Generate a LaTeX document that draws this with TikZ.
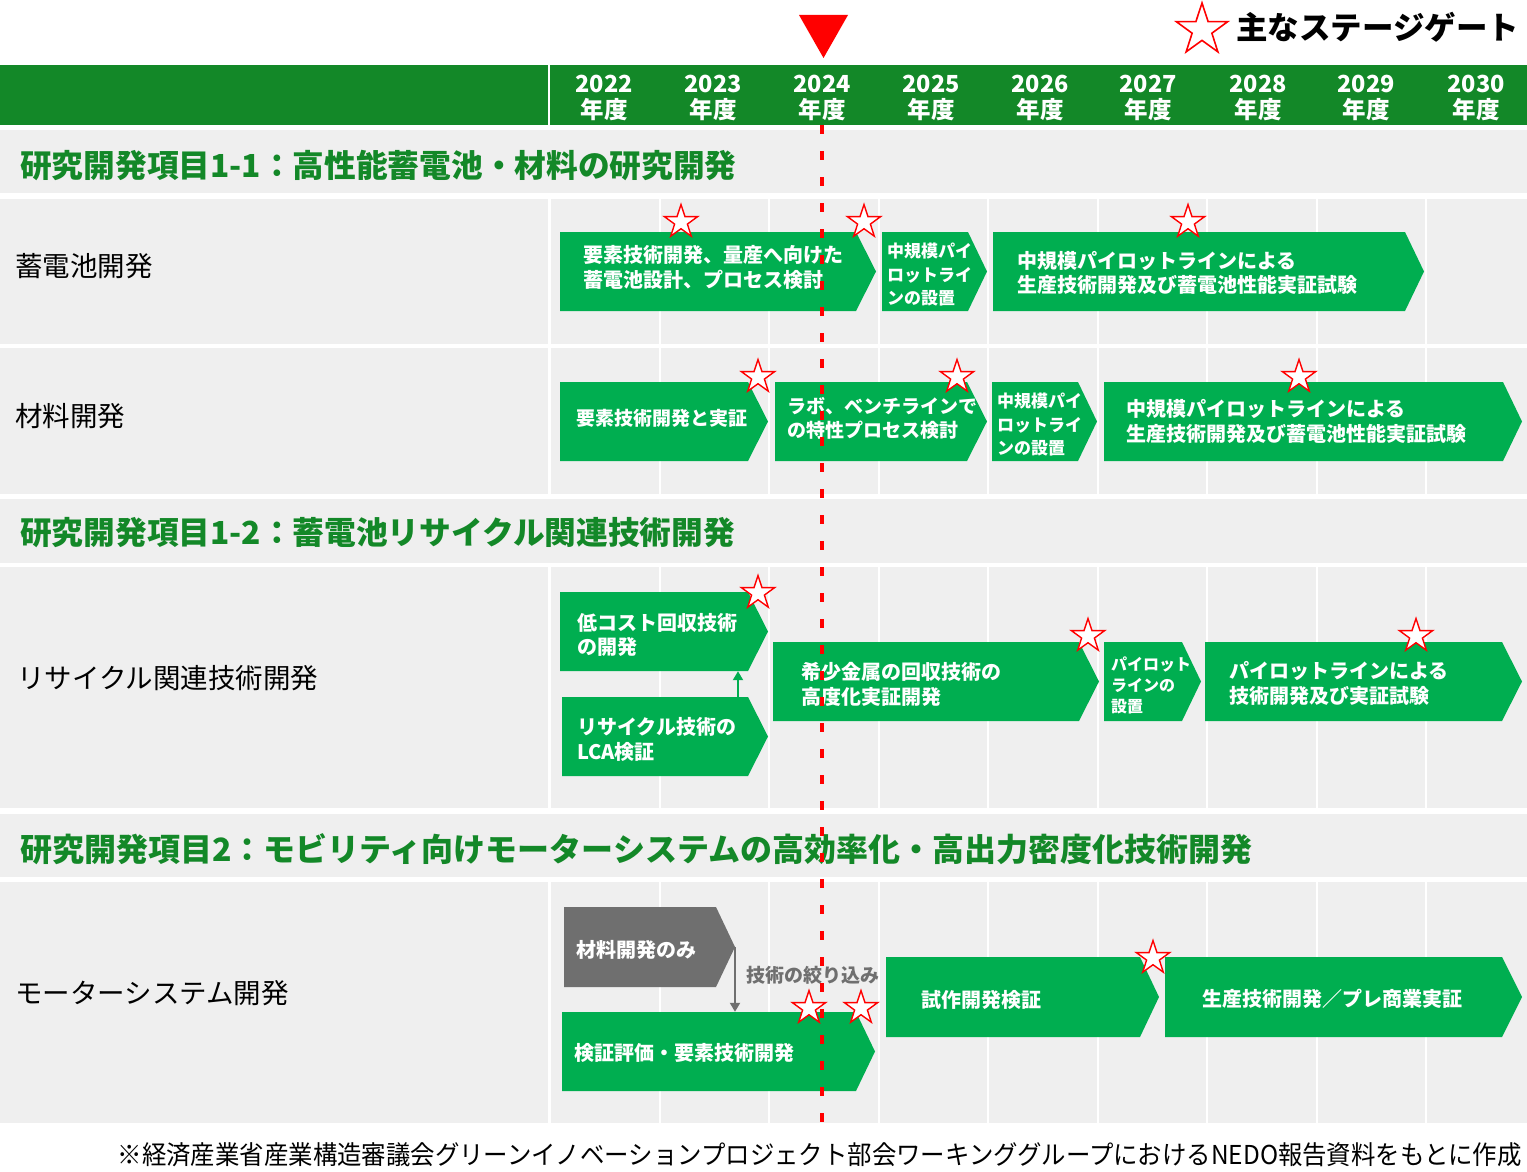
\documentclass[tikz,border=0pt]{standalone}
\usepackage{fontspec}
\setmainfont{Noto Sans CJK JP}
\usetikzlibrary{shapes.geometric,arrows.meta,fit}
\definecolor{hdrgreen}{RGB}{19,136,40}
\definecolor{cgreen}{RGB}{0,174,80}
\definecolor{bggray}{RGB}{239,239,239}
\definecolor{cgray}{RGB}{111,111,111}
% name, colour, x0, x-corner, x-tip, y0, y1
\newcommand\chev[7]{%
  \fill[#2] (#3,#6) -- (#4,#6) -- (#5,{(#6+#7)/2}) -- (#4,#7) -- (#3,#7) -- cycle;
  \node[fit={(#3,#6) (#4,#7)}, inner sep=0pt] (#1) {};
}
\tikzset{
  ct/.style={text=white, font=\bfseries\fontsize{20}{24.5}\selectfont, align=left, anchor=west, inner sep=0pt},
  ctm/.style={ct, font=\bfseries\fontsize{19}{24}\selectfont},
  cts/.style={ct, font=\bfseries\fontsize{17}{23.5}\selectfont},
  ctxs/.style={ct, font=\bfseries\fontsize{16}{21}\selectfont},
  rowlab/.style={anchor=west, inner sep=0pt, font=\fontsize{27.5}{27.5}\selectfont, text=black},
  sechead/.style={anchor=west, inner sep=0pt, font=\bfseries\fontsize{31.7}{32}\selectfont, text=hdrgreen},
  yr/.style={text=white, font=\bfseries\fontsize{23.5}{26}\selectfont, align=center, inner sep=0pt},
  stg/.style={star, star points=5, star point ratio=2.6, minimum size=35pt, inner sep=0pt, draw=red, fill=white, line width=1.4pt},
  gridline/.style={white, line width=2pt},
}
\begin{document}
\begin{tikzpicture}[x=1pt,y=-1pt]
\useasboundingbox (0,0) rectangle (1527,1172);
% header bar
\fill[hdrgreen] (0,65) rectangle (1527,125);
\draw[white, line width=2.5pt] (549,65) -- (549,125);
\foreach \x/\y [count=\i] in {604/2022,713/2023,822/2024,931/2025,1040/2026,1148/2027,1258/2028,1366/2029,1476/2030}
  \node[yr] (yr\i) at (\x,97.5) {\y\\年度};
% bands and rows
\fill[bggray] (0,130) rectangle (1527,193);
\fill[bggray] (0,199) rectangle (1527,344);
\fill[bggray] (0,348) rectangle (1527,494);
\fill[bggray] (0,499) rectangle (1527,563);
\fill[bggray] (0,567) rectangle (1527,808);
\fill[bggray] (0,814) rectangle (1527,877);
\fill[bggray] (0,882) rectangle (1527,1123);
\foreach \a/\b in {199/344,348/494,567/808,882/1123}{
  \draw[white, line width=3pt] (549,\a) -- (549,\b);
  \foreach \x in {660,769,879,988,1098,1207,1317,1426}
    \draw[gridline] (\x,\a) -- (\x,\b);
}
% section headings
\node[sechead] (h1) at (20,165) {研究開発項目1-1：高性能蓄電池・材料の研究開発};
\node[sechead] (h2) at (20,533) {研究開発項目1-2：蓄電池リサイクル関連技術開発};
\node[sechead, font=\bfseries\fontsize{32}{32}\selectfont] (h3) at (20,849) {研究開発項目2：モビリティ向けモーターシステムの高効率化・高出力密度化技術開発};
% row labels
\node[rowlab] (r1) at (15,266) {蓄電池開発};
\node[rowlab] (r2) at (15,416) {材料開発};
\node[rowlab] (r3) at (17,678) {リサイクル関連技術開発};
\node[rowlab] (r4) at (15,993) {モーターシステム開発};
% row 1
\chev{A1}{cgreen}{560}{856}{876}{232}{311}
\chev{A2}{cgreen}{882}{968}{987}{232}{311}
\chev{A3}{cgreen}{993}{1405}{1424}{232}{311}
\node[ct] (tA1) at (583,267.5) {要素技術開発、量産へ向けた\\蓄電池設計、プロセス検討};
\node[cts] (tA2) at (887,275) {中規模パイ\\ロットライ\\ンの設置};
\node[ct] (tA3) at (1017,273) {中規模パイロットラインによる\\生産技術開発及び蓄電池性能実証試験};
% row 2
\chev{B1}{cgreen}{560}{748}{768}{382}{461}
\chev{B2}{cgreen}{775}{967}{987}{382}{461}
\chev{B3}{cgreen}{992}{1078}{1097}{382}{461}
\chev{B4}{cgreen}{1104}{1503}{1522}{382}{461}
\node[ctm, anchor=center] (tB1) at (662,418) {要素技術開発と実証};
\node[ctm] (tB2) at (787,418.5) {ラボ、ベンチラインで\\の特性プロセス検討};
\node[cts] (tB3) at (997,425) {中規模パイ\\ロットライ\\ンの設置};
\node[ct] (tB4) at (1126,421.5) {中規模パイロットラインによる\\生産技術開発及び蓄電池性能実証試験};
% row 3
\chev{C1}{cgreen}{560}{748}{768}{592}{671}
\chev{C2}{cgreen}{562}{748}{768}{697}{776}
\chev{C3}{cgreen}{773}{1079}{1099}{642}{721}
\chev{C4}{cgreen}{1104}{1182}{1201}{642}{721}
\chev{C5}{cgreen}{1205}{1502}{1522}{642}{721}
\node[ct] (tC1) at (577,635) {低コスト回収技術\\の開発};
\node[ct] (tC2) at (577,739.5) {リサイクル技術の\\LCA検証};
\node[ct] (tC3) at (801,684.5) {希少金属の回収技術の\\高度化実証開発};
\node[ctxs] (tC4) at (1111,685) {パイロット\\ラインの\\設置};
\node[ct] (tC5) at (1229,683.5) {パイロットラインによる\\技術開発及び実証試験};
\coordinate (ax) at (738,0);
\draw[cgreen, line width=2pt, -{Triangle[width=10pt,length=9pt]}] (C2.north -| ax) -- (C1.south -| ax);
% row 4
\chev{D1}{cgray}{564}{716}{735}{907}{987}
\chev{D2}{cgreen}{562}{856}{875}{1012}{1091}
\chev{D3}{cgreen}{886}{1140}{1159}{957}{1037}
\chev{D4}{cgreen}{1165}{1502}{1522}{957}{1037}
\node[ct] (tD1) at (576,950) {材料開発のみ};
\node[ct] (tD2) at (574,1053) {検証評価・要素技術開発};
\node[ct] (tD3) at (921,1000) {試作開発検証};
\node[ct, anchor=center] (tD4) at (1332,999) {生産技術開発／プレ商業実証};
\coordinate (D1tip) at (735,947);
\draw[cgray, line width=2pt, -{Triangle[width=10pt,length=9pt]}] (D1tip) -- (D2.north -| D1tip);
\node[anchor=west, inner sep=0pt, text=cgray, font=\bfseries\fontsize{19}{19}\selectfont] (nar) at (746,975) {技術の絞り込み};
% stage-gate stars
\foreach \x/\y [count=\i] in {681/222,864/222,1188/222,758/377,957/377,1299/377,758/593,1088/636,1416/636,809/1008,861/1008,1153/958}
  \node[stg] (sg\i) at (\x,\y) {};
% legend
\node[stg, minimum size=54pt, line width=1.6pt] (legstar) at (1202,30) {};
\node[anchor=west, inner sep=0pt, font=\bfseries\fontsize{31.5}{31.5}\selectfont] (legtext) at (1236,27) {主なステージゲート};
% current-year marker
\fill[red] (799,15) -- (848,15) -- (823.5,58) -- cycle;
\coordinate (dtop) at (822,125);
\coordinate (dbot) at (822,1122);
\draw[red, line width=4pt, dash pattern=on 9pt off 17pt] (dtop) -- (dbot);
% footnote
\node[anchor=east, inner sep=0pt, font=\fontsize{26}{26}\selectfont] (foot) at (1522,1155) {\scalebox{0.939}[1]{※経済産業省産業構造審議会グリーンイノベーションプロジェクト部会ワーキンググループにおけるNEDO報告資料をもとに作成}};
\end{tikzpicture}
\end{document}
